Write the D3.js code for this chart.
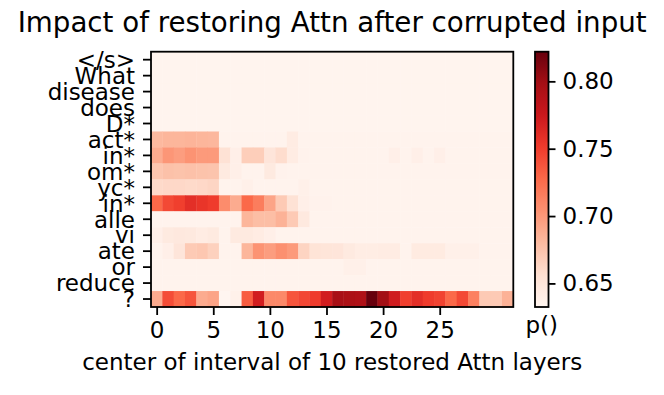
<!DOCTYPE html>
<html>
<head>
<meta charset="utf-8">
<script src="https://cdn.jsdelivr.net/npm/d3@7"></script>
<style>
  body { margin: 0; background: #fff; }
  text { font-family: "DejaVu Sans", sans-serif; fill: #000; }
</style>
</head>
<body>
<div id="chart"></div>
<script>
const rowLabels = ["</s>", "What", "disease", "does", "D*", "act*", "in*", "om*", "yc*", "in*", "alle", "vi", "ate", "or", "reduce", "?"];
const xTicks = [0, 5, 10, 15, 20, 25];
const cbarTicks = [0.65, 0.70, 0.75, 0.80];
// one row per token, 32 columns (layer window centers 0..31)
const rowSos     = [0.634,0.634,0.634,0.634,0.634,0.634,0.634,0.634,0.634,0.634,0.634,0.634,0.634,0.634,0.634,0.634,0.634,0.634,0.634,0.634,0.634,0.634,0.634,0.634,0.634,0.634,0.634,0.634,0.634,0.634,0.634,0.634];
const rowWhat    = [0.634,0.634,0.634,0.634,0.634,0.634,0.634,0.634,0.634,0.634,0.634,0.634,0.634,0.634,0.634,0.634,0.634,0.634,0.634,0.634,0.634,0.634,0.634,0.634,0.634,0.634,0.634,0.634,0.634,0.634,0.634,0.634];
const rowDisease = [0.634,0.634,0.634,0.634,0.634,0.634,0.634,0.634,0.634,0.634,0.634,0.634,0.634,0.634,0.634,0.634,0.634,0.634,0.634,0.634,0.634,0.634,0.634,0.634,0.634,0.634,0.634,0.634,0.634,0.634,0.634,0.634];
const rowDoes    = [0.634,0.634,0.634,0.634,0.634,0.634,0.634,0.634,0.634,0.634,0.634,0.634,0.634,0.634,0.634,0.634,0.634,0.634,0.634,0.634,0.634,0.634,0.634,0.634,0.634,0.634,0.634,0.634,0.634,0.634,0.634,0.634];
const rowD       = [0.634,0.634,0.634,0.634,0.634,0.634,0.634,0.634,0.634,0.634,0.634,0.634,0.634,0.634,0.634,0.634,0.634,0.634,0.634,0.634,0.634,0.634,0.634,0.634,0.634,0.634,0.634,0.634,0.634,0.634,0.634,0.634];
const rowAct     = [0.681,0.683,0.683,0.684,0.683,0.682,0.635,0.635,0.635,0.635,0.635,0.635,0.643,0.635,0.635,0.635,0.635,0.635,0.635,0.635,0.635,0.635,0.635,0.635,0.635,0.635,0.635,0.635,0.635,0.635,0.635,0.635];
const rowIn1     = [0.689,0.701,0.697,0.703,0.699,0.699,0.654,0.639,0.668,0.668,0.650,0.658,0.643,0.636,0.635,0.635,0.635,0.635,0.635,0.635,0.635,0.639,0.635,0.639,0.635,0.639,0.635,0.635,0.635,0.635,0.635,0.635];
const rowOm      = [0.673,0.676,0.675,0.676,0.675,0.674,0.645,0.639,0.635,0.635,0.645,0.636,0.635,0.635,0.635,0.635,0.635,0.635,0.635,0.635,0.635,0.635,0.635,0.635,0.635,0.635,0.635,0.635,0.635,0.635,0.635,0.635];
const rowYc      = [0.660,0.661,0.661,0.660,0.661,0.663,0.635,0.635,0.638,0.635,0.635,0.635,0.635,0.638,0.635,0.635,0.635,0.635,0.635,0.635,0.635,0.635,0.635,0.635,0.635,0.635,0.635,0.635,0.635,0.635,0.635,0.635];
const rowIn2     = [0.728,0.744,0.749,0.759,0.755,0.751,0.707,0.689,0.728,0.716,0.693,0.670,0.654,0.639,0.636,0.636,0.635,0.635,0.635,0.635,0.635,0.635,0.635,0.635,0.635,0.635,0.635,0.635,0.635,0.635,0.635,0.635];
const rowAlle    = [0.635,0.635,0.635,0.635,0.635,0.635,0.635,0.635,0.683,0.678,0.678,0.685,0.670,0.646,0.635,0.635,0.635,0.635,0.635,0.635,0.635,0.635,0.635,0.635,0.635,0.635,0.635,0.635,0.635,0.635,0.635,0.635];
const rowVi      = [0.639,0.645,0.647,0.646,0.643,0.645,0.635,0.645,0.645,0.643,0.639,0.635,0.635,0.635,0.635,0.635,0.635,0.635,0.635,0.635,0.635,0.635,0.635,0.635,0.635,0.635,0.635,0.635,0.635,0.635,0.635,0.635];
const rowAte     = [0.635,0.639,0.650,0.670,0.672,0.666,0.635,0.635,0.683,0.703,0.697,0.705,0.699,0.664,0.652,0.651,0.650,0.645,0.642,0.642,0.643,0.643,0.635,0.644,0.644,0.644,0.638,0.638,0.638,0.635,0.635,0.635];
const rowOr      = [0.635,0.635,0.635,0.635,0.635,0.635,0.635,0.635,0.635,0.635,0.635,0.635,0.635,0.635,0.635,0.635,0.635,0.638,0.638,0.635,0.635,0.635,0.635,0.635,0.635,0.635,0.635,0.635,0.635,0.635,0.635,0.635];
const rowReduce  = [0.635,0.635,0.635,0.635,0.635,0.635,0.635,0.635,0.635,0.635,0.635,0.635,0.635,0.635,0.635,0.635,0.635,0.635,0.635,0.635,0.635,0.635,0.635,0.635,0.635,0.635,0.635,0.635,0.635,0.635,0.635,0.635];
const rowQ       = [0.689,0.742,0.728,0.738,0.689,0.693,0.6325,0.637,0.734,0.771,0.709,0.709,0.738,0.745,0.751,0.771,0.796,0.794,0.792,0.822,0.799,0.772,0.749,0.759,0.751,0.747,0.728,0.744,0.714,0.670,0.670,0.685];
const values = [rowSos, rowWhat, rowDisease, rowDoes, rowD, rowAct, rowIn1, rowOm, rowYc, rowIn2, rowAlle, rowVi, rowAte, rowOr, rowReduce, rowQ];

// matplotlib "Reds" anchor colours
const redsPalette = ["#fff5f0", "#fee0d2", "#fcbba1", "#fc9272", "#fb6a4a", "#ef3b2c", "#cb181d", "#a50f15", "#67000d"];

const W = 664, H = 395;
const plotL = 151, plotR = 513.3, plotT = 51.7, plotB = 307;
const cbL = 535, cbR = 548.5;
const fs = 23;

const svg = d3.select("#chart").append("svg")
  .attr("width", W).attr("height", H);

const nCols = values[0].length;
const x = d3.scaleLinear().domain([-0.5, nCols - 0.5]).range([plotL, plotR]);
const y = d3.scaleBand().domain(d3.range(rowLabels.length)).range([plotT, plotB]);

const [vmin, vmax] = d3.extent(values.flat());
const norm = d3.scaleLinear().domain([vmin, vmax]).range([0, 1]);
const reds = d3.scaleLinear()
  .domain(d3.range(redsPalette.length).map(i => i / (redsPalette.length - 1)))
  .range(redsPalette)
  .interpolate(d3.interpolateRgb);
const color = v => reds(norm(v));

const cells = values.flatMap((row, r) => row.map((v, c) => ({ r, c, v })));
svg.append("g")
  .selectAll("rect")
  .data(cells)
  .enter()
  .append("rect")
  .attr("x", d => x(d.c - 0.5))
  .attr("y", d => y(d.r))
  .attr("width", x(1) - x(0) + 0.4)
  .attr("height", y.bandwidth() + 0.4)
  .attr("fill", d => color(d.v));

// frame
svg.append("rect")
  .attr("x", plotL).attr("y", plotT)
  .attr("width", plotR - plotL).attr("height", plotB - plotT)
  .attr("fill", "none").attr("stroke", "#000").attr("stroke-width", 1.8);

const xAxis = svg.append("g")
  .attr("transform", `translate(0,${plotB})`)
  .call(d3.axisBottom(x).tickValues(xTicks).tickSize(8).tickPadding(7));
xAxis.select(".domain").remove();
xAxis.selectAll("line").attr("stroke-width", 1.8);
xAxis.selectAll("text").attr("font-size", fs).attr("font-family", "DejaVu Sans");

const yAxis = svg.append("g")
  .attr("transform", `translate(${plotL},0)`)
  .call(d3.axisLeft(y).tickFormat(i => rowLabels[i]).tickSize(8).tickPadding(8));
yAxis.select(".domain").remove();
yAxis.selectAll("line").attr("stroke-width", 1.8);
yAxis.selectAll("text").attr("font-size", fs).attr("font-family", "DejaVu Sans").attr("dy", "0.36em");

svg.append("text")
  .attr("x", (plotL + plotR) / 2).attr("y", 32)
  .attr("text-anchor", "middle")
  .attr("font-size", 27.7)
  .text("Impact of restoring Attn after corrupted input");

svg.append("text")
  .attr("x", (plotL + plotR) / 2).attr("y", 370)
  .attr("text-anchor", "middle")
  .attr("font-size", fs)
  .text("center of interval of 10 restored Attn layers");

// colorbar
const cb = d3.scaleLinear().domain([vmin, vmax]).range([plotB, plotT]);
const grad = svg.append("defs").append("linearGradient")
  .attr("id", "cbgrad").attr("x1", 0).attr("y1", 1).attr("x2", 0).attr("y2", 0);
grad.selectAll("stop")
  .data(d3.range(0, 1.0001, 0.02))
  .enter()
  .append("stop")
  .attr("offset", d => d)
  .attr("stop-color", d => reds(d));
svg.append("rect")
  .attr("x", cbL).attr("y", plotT)
  .attr("width", cbR - cbL).attr("height", plotB - plotT)
  .attr("fill", "url(#cbgrad)")
  .attr("stroke", "#000").attr("stroke-width", 1.8);
const cbAxis = svg.append("g")
  .attr("transform", `translate(${cbR},0)`)
  .call(d3.axisRight(cb).tickValues(cbarTicks).tickFormat(d3.format(".2f")).tickSize(7).tickPadding(7));
cbAxis.select(".domain").remove();
cbAxis.selectAll("line").attr("stroke-width", 1.8);
cbAxis.selectAll("text").attr("font-size", fs).attr("font-family", "DejaVu Sans");

svg.append("text")
  .attr("x", (cbL + cbR) / 2).attr("y", 333)
  .attr("text-anchor", "middle")
  .attr("font-size", fs)
  .text("p()");
</script>
</body>
</html>
